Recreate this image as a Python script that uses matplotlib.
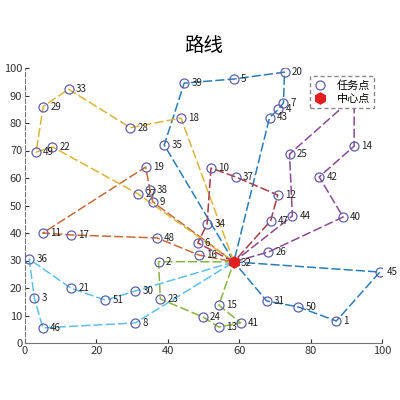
import matplotlib
matplotlib.use('Agg')
import matplotlib.pyplot as plt
import numpy as np

plt.rcParams['font.family'] = ['Noto Sans CJK SC', 'DejaVu Sans']

# task points: id, x, y
ids = [1, 2, 3, 4, 5, 6, 7, 8, 9, 10,
       11, 12, 13, 14, 15, 16, 17, 18, 19, 20,
       21, 22, 23, 24, 25, 26, 27, 28, 29, 30,
       31, 33, 34, 35, 36, 37, 38, 39, 40, 41,
       42, 43, 44, 45, 46, 47, 48, 49, 50, 51, 52]
xs = [87.2, 37.4, 2.6, 71.0, 58.5, 48.4, 72.4, 30.9, 35.8, 52.1,
      5.0, 70.8, 54.3, 92.2, 54.3, 48.7, 12.8, 43.7, 33.8, 72.7,
      12.9, 7.7, 37.9, 49.8, 74.1, 68.2, 31.7, 29.5, 5.1, 30.9,
      67.7, 12.2, 51.0, 39.0, 1.2, 59.0, 35.0, 44.6, 89.1, 60.4,
      82.4, 68.5, 74.9, 99.4, 5.0, 68.8, 37.0, 3.1, 76.6, 22.5, 92.2]
ys = [8.0, 29.6, 16.4, 85.0, 96.0, 36.4, 87.3, 7.3, 51.3, 63.6,
      40.0, 53.8, 5.8, 71.6, 13.8, 32.0, 39.3, 81.8, 64.0, 98.5,
      19.9, 71.3, 16.0, 9.5, 68.7, 33.1, 54.2, 78.3, 86.0, 18.9,
      15.3, 92.3, 43.3, 72.0, 30.5, 60.4, 55.6, 94.5, 45.8, 7.3,
      60.4, 82.0, 46.2, 25.8, 5.5, 44.4, 38.2, 69.4, 13.1, 15.6, 89.5]
# point 52 sits under the legend, its label is not visible
hidden_labels = [52]

center_id = 32
center_xy = (58.5, 29.5)

routes = [
    [32, 35, 39, 5, 20, 7, 4, 43, 32],
    [32, 9, 38, 19, 11, 17, 48, 16, 32],
    [32, 18, 28, 33, 29, 49, 22, 27, 32],
    [32, 26, 40, 42, 14, 52, 25, 44, 32],
    [32, 2, 23, 24, 13, 41, 15, 32],
    [32, 30, 51, 21, 36, 3, 46, 8, 32],
    [32, 6, 34, 10, 37, 12, 47, 32],
    [32, 45, 1, 50, 31, 32],
]
route_colors = ['#2a7db5', '#c9693a', '#dcb43c', '#8a4a96',
                '#8ab443', '#5fc0e6', '#a83a4a', '#2a7db5']

pos = {i: (x, y) for i, x, y in zip(ids, xs, ys)}
pos[center_id] = center_xy

fig = plt.figure(figsize=(4, 4), dpi=100)
ax = fig.add_axes([0.0625, 0.1425, 0.8925, 0.6875])

for r, c in zip(routes, route_colors):
    rx = [pos[i][0] for i in r]
    ry = [pos[i][1] for i in r]
    ax.plot(rx, ry, color=c, lw=1.1, ls=(0, (6, 2)), zorder=2)

h1, = ax.plot(xs, ys, 'o', mfc='none', mec='#6060a8', ms=6.5, mew=0.9,
              ls='none', zorder=3)
h2, = ax.plot(center_xy[0], center_xy[1], 'h', color='#e02020', ms=8,
              ls='none', zorder=4)

for i, x, y in zip(ids, xs, ys):
    if i in hidden_labels:
        continue
    ax.text(x + 2.0, y, str(i), fontsize=7, color='#222222',
            va='center', ha='left', zorder=3)
ax.text(center_xy[0] + 2.0, center_xy[1] - 0.5, str(center_id), fontsize=7,
        color='#222222', va='center', ha='left', zorder=3)

ax.set_xlim(0, 100)
ax.set_ylim(0, 100)
ax.set_xticks(np.arange(0, 101, 20))
ax.set_yticks(np.arange(0, 101, 10))
ax.tick_params(direction='in', labelsize=8, colors='#333333', length=3,
               pad=2)
ax.spines['top'].set_visible(False)
ax.spines['right'].set_visible(False)
ax.spines['left'].set_linestyle((0, (4, 2)))
ax.spines['left'].set_color('#777777')
ax.spines['bottom'].set_color('#777777')
ax.set_title('路线', fontsize=14, pad=12)

leg = ax.legend([h1, h2], ['任务点', '中心点'], loc='upper right',
                bbox_to_anchor=(0.985, 0.978), fontsize=8, framealpha=1,
                fancybox=False, edgecolor='#888888', handlelength=1.2,
                borderpad=0.35, labelspacing=0.3, handletextpad=0.9,
                borderaxespad=0.2)
leg.get_frame().set_linestyle((0, (3, 2)))
leg.set_zorder(10)

fig.savefig('out.png', dpi=100)
